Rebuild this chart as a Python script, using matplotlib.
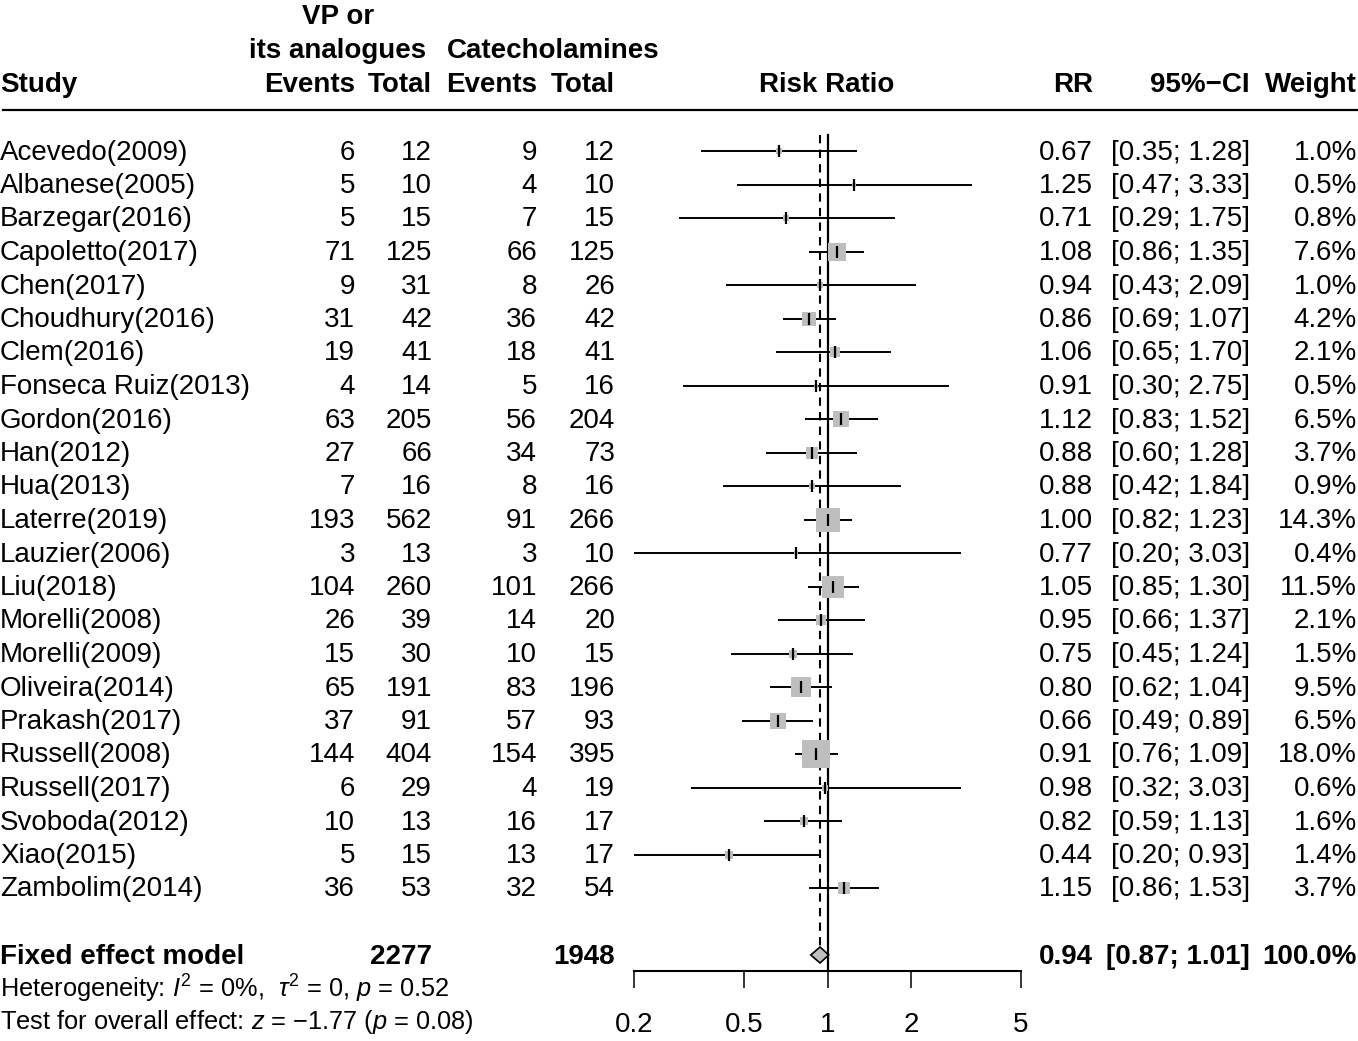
import matplotlib
matplotlib.use("Agg")
import matplotlib.pyplot as plt
from matplotlib.patches import Polygon
import numpy as np

plt.rcParams['font.family'] = ['Liberation Sans', 'DejaVu Sans']
plt.rcParams['mathtext.fontset'] = 'custom'
plt.rcParams['mathtext.rm'] = 'Liberation Sans'
plt.rcParams['mathtext.it'] = 'Liberation Sans:italic'
plt.rcParams['mathtext.bf'] = 'Liberation Sans:bold'

# ---------------- data ----------------
studies = ["Acevedo(2009)", "Albanese(2005)", "Barzegar(2016)", "Capoletto(2017)",
           "Chen(2017)", "Choudhury(2016)", "Clem(2016)", "Fonseca Ruiz(2013)",
           "Gordon(2016)", "Han(2012)", "Hua(2013)", "Laterre(2019)", "Lauzier(2006)",
           "Liu(2018)", "Morelli(2008)", "Morelli(2009)", "Oliveira(2014)",
           "Prakash(2017)", "Russell(2008)", "Russell(2017)", "Svoboda(2012)",
           "Xiao(2015)", "Zambolim(2014)"]
ev_vp = [6, 5, 5, 71, 9, 31, 19, 4, 63, 27, 7, 193, 3, 104, 26, 15, 65, 37, 144, 6, 10, 5, 36]
n_vp = [12, 10, 15, 125, 31, 42, 41, 14, 205, 66, 16, 562, 13, 260, 39, 30, 191, 91, 404, 29, 13, 15, 53]
ev_cat = [9, 4, 7, 66, 8, 36, 18, 5, 56, 34, 8, 91, 3, 101, 14, 10, 83, 57, 154, 4, 16, 13, 32]
n_cat = [12, 10, 15, 125, 26, 42, 41, 16, 204, 73, 16, 266, 10, 266, 20, 15, 196, 93, 395, 19, 17, 17, 54]
rr = [0.67, 1.25, 0.71, 1.08, 0.94, 0.86, 1.06, 0.91, 1.12, 0.88, 0.88, 1.00, 0.77,
      1.05, 0.95, 0.75, 0.80, 0.66, 0.91, 0.98, 0.82, 0.44, 1.15]
ci_lo = [0.35, 0.47, 0.29, 0.86, 0.43, 0.69, 0.65, 0.30, 0.83, 0.60, 0.42, 0.82, 0.20,
         0.85, 0.66, 0.45, 0.62, 0.49, 0.76, 0.32, 0.59, 0.20, 0.86]
ci_hi = [1.28, 3.33, 1.75, 1.35, 2.09, 1.07, 1.70, 2.75, 1.52, 1.28, 1.84, 1.23, 3.03,
         1.30, 1.37, 1.24, 1.04, 0.89, 1.09, 3.03, 1.13, 0.93, 1.53]
weight = [1.0, 0.5, 0.8, 7.6, 1.0, 4.2, 2.1, 0.5, 6.5, 3.7, 0.9, 14.3, 0.4, 11.5, 2.1,
          1.5, 9.5, 6.5, 18.0, 0.6, 1.6, 1.4, 3.7]
fixed_rr, fixed_lo, fixed_hi = 0.94, 0.87, 1.01
total_vp, total_cat = 2277, 1948
xticks = [0.2, 0.5, 1, 2, 5]
xticklabels = ["0.2", "0.5", "1", "2", "5"]

# ---------------- layout ----------------
W, H = 1358, 1041
fig = plt.figure(figsize=(W / 100, H / 100), dpi=100)
ax_t = fig.add_axes([0, 0, 1, 1])
ax_t.set_xlim(0, W)
ax_t.set_ylim(H, 0)
ax_t.axis('off')

axis_y = 971
ax_f = fig.add_axes([634 / W, (H - axis_y) / H, (1021 - 634) / W, axis_y / H])
ax_f.set_xscale('log')
ax_f.set_xlim(0.2, 5)
ax_f.set_ylim(axis_y, 0)
ax_f.patch.set_alpha(0)
for s in ['top', 'right', 'left']:
    ax_f.spines[s].set_visible(False)
ax_f.spines['bottom'].set_linewidth(1.5)
ax_f.set_yticks([])
ax_f.minorticks_off()
ax_f.set_xticks(xticks)
ax_f.set_xticklabels(xticklabels)
ax_f.tick_params(axis='x', direction='out', length=12.2, width=1.1, pad=17,
                 labelsize=20)

row0, dy = 151, 33.5
ys = [row0 + dy * i for i in range(len(studies))]
fixed_y = 955

FS = 20
bl = 8.5  # baseline offset from row centre

# reference lines
ax_f.plot([1, 1], [135, axis_y], color='black', lw=1.6, clip_on=False)
ax_f.plot([fixed_rr, fixed_rr], [135, fixed_y - 8], color='black', lw=1.5,
          linestyle=(0, (4, 3)))

# study rows
for i, y in enumerate(ys):
    ax_f.plot([ci_lo[i], ci_hi[i]], [y, y], color='black', lw=1.4,
              solid_capstyle='butt', clip_on=False)
    side = 28 * np.sqrt(weight[i] / 18.0)
    ax_f.plot([rr[i]], [y], marker='s', markersize=side * 0.72, color='#BEBEBE',
              markeredgewidth=0, zorder=3)
    ax_f.plot([rr[i]], [y], marker='|', markersize=8, color='black',
              markeredgewidth=1.6, zorder=4)

# diamond
diamond = Polygon([(fixed_lo, fixed_y), (fixed_rr, fixed_y - 8),
                   (fixed_hi, fixed_y), (fixed_rr, fixed_y + 8)],
                  closed=True, facecolor='#BEBEBE', edgecolor='black', lw=1.2,
                  zorder=5)
ax_f.add_patch(diamond)

# header
hb = dict(fontsize=FS, fontweight='bold', va='baseline')
ax_t.text(338, 15 + bl, "VP or", ha='center', **hb)
ax_t.text(338, 49 + bl, "its analogues", ha='center', **hb)
ax_t.text(553, 49 + bl, "Catecholamines", ha='center', **hb)
ax_t.text(0, 84 + bl, "Study", ha='left', **hb)
ax_t.text(355, 84 + bl, "Events", ha='right', **hb)
ax_t.text(432, 84 + bl, "Total", ha='right', **hb)
ax_t.text(537, 84 + bl, "Events", ha='right', **hb)
ax_t.text(615, 84 + bl, "Total", ha='right', **hb)
ax_t.text(827, 84 + bl, "Risk Ratio", ha='center', **hb)
ax_t.text(1093, 84 + bl, "RR", ha='right', **hb)
ax_t.text(1250, 84 + bl, "95%\u2212CI", ha='right', **hb)
ax_t.text(1357, 84 + bl, "Weight", ha='right', **hb)
ax_t.plot([3, W], [110, 110], color='black', lw=1.6)

# rows text
nb = dict(fontsize=FS, va='baseline')
for i, y in enumerate(ys):
    yb = y + bl
    ax_t.text(0, yb, studies[i], ha='left', **nb)
    ax_t.text(355, yb, str(ev_vp[i]), ha='right', **nb)
    ax_t.text(432, yb, str(n_vp[i]), ha='right', **nb)
    ax_t.text(537, yb, str(ev_cat[i]), ha='right', **nb)
    ax_t.text(615, yb, str(n_cat[i]), ha='right', **nb)
    ax_t.text(1093, yb, f"{rr[i]:.2f}", ha='right', **nb)
    ax_t.text(1250, yb, f"[{ci_lo[i]:.2f}; {ci_hi[i]:.2f}]", ha='right', **nb)
    ax_t.text(1357, yb, f"{weight[i]:.1f}%", ha='right', **nb)

# fixed effect row
fb = fixed_y + bl
ax_t.text(0, fb, "Fixed effect model", ha='left', **hb)
ax_t.text(432, fb, str(total_vp), ha='right', **hb)
ax_t.text(615, fb, str(total_cat), ha='right', **hb)
ax_t.text(1093, fb, f"{fixed_rr:.2f}", ha='right', **hb)
ax_t.text(1250, fb, f"[{fixed_lo:.2f}; {fixed_hi:.2f}]", ha='right', **hb)
ax_t.text(1357, fb, "100.0%", ha='right', **hb)

sb = dict(fontsize=18.3, va='baseline', ha='left')
ax_t.text(0, 990 + 8, r"Heterogeneity: $I^2$ = 0%,  $\tau^2$ = 0, $p$ = 0.52", **sb)
ax_t.text(0, 1021 + 8, "Test for overall effect: $z$ = \u22121.77 ($p$ = 0.08)", **sb)

fig.savefig("out.png", dpi=100)
